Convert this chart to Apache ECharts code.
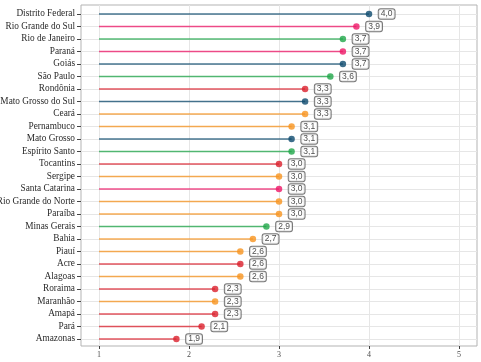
<!DOCTYPE html>
<html><head><meta charset="utf-8">
<script src="https://cdn.jsdelivr.net/npm/echarts@6/dist/echarts.min.js"></script>
<style>html,body{margin:0;padding:0;background:#fff}#c{width:481px;height:362px}</style>
</head><body><div id="c"></div>
<script>
const states = ['Distrito Federal','Rio Grande do Sul','Rio de Janeiro','Paraná','Goiás','São Paulo','Rondônia','Mato Grosso do Sul','Ceará','Pernambuco','Mato Grosso','Espírito Santo','Tocantins','Sergipe','Santa Catarina','Rio Grande do Norte','Paraíba','Minas Gerais','Bahia','Piauí','Acre','Alagoas','Roraima','Maranhão','Amapá','Pará','Amazonas'];
const values = [4.0,3.86,3.71,3.71,3.71,3.57,3.29,3.29,3.29,3.14,3.14,3.14,3.0,3.0,3.0,3.0,3.0,2.86,2.71,2.57,2.57,2.57,2.29,2.29,2.29,2.14,1.86];
const regions = ['CO','S','SE','S','CO','SE','N','CO','NE','NE','CO','SE','N','NE','S','NE','NE','SE','NE','NE','N','NE','N','NE','N','N','N'];
const regionColors = {N:'#db1f2c', NE:'#f7931e', CO:'#0c4a6e', SE:'#1fa649', S:'#ee1767'};
const xTicks = [1,2,3,4,5];
const segStart = 1;

const chart = echarts.init(document.getElementById('c'), null, {renderer:'canvas'});
const fmt = v => v.toFixed(1).replace('.', ',');

chart.setOption({
  animation:false,
  backgroundColor:'#fff',
  grid:[
    {left:81, right:4, top:7.75, bottom:16.75, outerBoundsMode:'none', containLabel:false},
    {left:81, right:4, top:5, bottom:16, show:true, borderColor:'#b3b3b3', borderWidth:1, backgroundColor:'transparent', outerBoundsMode:'none', containLabel:false}
  ],
  xAxis:[
    {gridIndex:0, type:'value', min:0.8, max:5.2, show:false},
    {gridIndex:1, type:'value', min:0.8, max:5.2,
     axisLine:{show:false},
     axisTick:{show:true, length:3, customValues:xTicks, lineStyle:{color:'#444'}},
     axisLabel:{customValues:xTicks, fontSize:8, color:'#4d4d4d', fontFamily:'Liberation Serif', margin:5},
     splitLine:{show:true, lineStyle:{color:'#e6e6e6', width:1}}
    }
  ],
  yAxis:[
    {gridIndex:0, type:'category', data:states, inverse:true,
     axisLine:{show:false},
     axisTick:{show:true, alignWithLabel:true, length:4, lineStyle:{color:'#444'}},
     axisLabel:{fontSize:9.3, color:'#2a2a2a', fontFamily:'Liberation Serif', margin:6, interval:0},
     splitLine:{show:true, alignWithLabel:true, lineStyle:{color:'#e6e6e6', width:1}}
    },
    {gridIndex:1, type:'value', min:0, max:1, show:false}
  ],
  series:[
    {type:'custom', xAxisIndex:0, yAxisIndex:0,
     encode:{x:0, y:1},
     data: values.map((v,i)=>[v, i]),
     renderItem:(params, api)=>{
       const idx = api.value(1);
       const s = api.coord([segStart, idx]);
       const e = api.coord([api.value(0), idx]);
       return {type:'line', shape:{x1:s[0], y1:s[1], x2:e[0], y2:e[1]},
               style:{stroke:regionColors[regions[params.dataIndex]], lineWidth:1.5, opacity:0.75}};
     }
    },
    {type:'scatter', xAxisIndex:0, yAxisIndex:0, symbolSize:6.5,
     data: values.map((v,i)=>({value:[v, i], itemStyle:{color:regionColors[regions[i]]}})),
     label:{show:true, position:'right', distance:6.5,
       formatter:p=>fmt(p.value[0]),
       fontSize:8.5, fontFamily:'Liberation Sans', color:'#1a1a1a', lineHeight:8.5,
       backgroundColor:'#fff', borderColor:'#555', borderWidth:1, borderRadius:2, padding:[1,2,0,2]},
     z:3
    }
  ]
});
</script></body></html>
